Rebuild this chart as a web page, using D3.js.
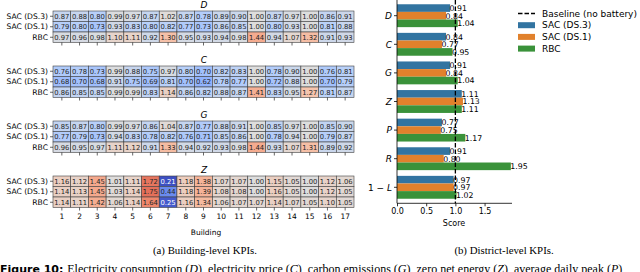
<!DOCTYPE html>
<html>
  <head>
    <style>
      html,
      body {
        margin: 0;
        padding: 0;
        background: #fff;
      }
      svg {
        display: block;
      }
    </style>
  </head>
  <body>
    <div id="viz"></div>
    <script src="https://d3js.org/d3.v7.min.js"></script>
    <script>
      // ---- data ----
      const buildings = ["1", "2", "3", "4", "5", "6", "7", "8", "9", "10", "11", "12", "13", "14", "15", "16", "17"];
      const controllers = ["SAC (DS.3)", "SAC (DS.1)", "RBC"];
      const panelNames = ["D", "C", "G", "Z"];

      const consumptionD = [
        [0.87, 0.88, 0.80, 0.99, 0.97, 0.87, 1.02, 0.87, 0.78, 0.89, 0.90, 1.00, 0.87, 0.97, 1.00, 0.86, 0.91],
        [0.79, 0.80, 0.73, 0.93, 0.83, 0.80, 0.82, 0.77, 0.73, 0.86, 0.85, 1.00, 0.80, 0.93, 1.00, 0.81, 0.88],
        [0.97, 0.96, 0.98, 1.10, 1.11, 0.92, 1.30, 0.95, 0.93, 0.94, 0.98, 1.44, 0.94, 1.07, 1.32, 0.91, 0.93],
      ];
      const priceC = [
        [0.76, 0.78, 0.73, 0.99, 0.88, 0.75, 0.97, 0.80, 0.70, 0.82, 0.83, 1.00, 0.78, 0.90, 1.00, 0.76, 0.81],
        [0.68, 0.70, 0.68, 0.91, 0.75, 0.69, 0.81, 0.70, 0.62, 0.78, 0.77, 1.00, 0.72, 0.88, 1.00, 0.70, 0.79],
        [0.86, 0.85, 0.85, 0.99, 0.99, 0.83, 1.14, 0.86, 0.82, 0.88, 0.87, 1.41, 0.83, 0.95, 1.27, 0.81, 0.87],
      ];
      const emissionsG = [
        [0.85, 0.87, 0.80, 0.99, 0.97, 0.86, 1.04, 0.87, 0.77, 0.88, 0.91, 1.00, 0.85, 0.97, 1.00, 0.85, 0.90],
        [0.77, 0.79, 0.73, 0.94, 0.83, 0.78, 0.82, 0.76, 0.71, 0.85, 0.86, 1.00, 0.78, 0.94, 1.00, 0.79, 0.87],
        [0.96, 0.95, 0.97, 1.11, 1.12, 0.91, 1.33, 0.94, 0.92, 0.93, 0.98, 1.44, 0.93, 1.07, 1.31, 0.89, 0.92],
      ];
      const zeroNetZ = [
        [1.16, 1.12, 1.45, 1.01, 1.11, 1.72, 0.21, 1.18, 1.38, 1.07, 1.07, 1.00, 1.15, 1.05, 1.00, 1.12, 1.06],
        [1.14, 1.13, 1.45, 1.03, 1.14, 1.75, 0.44, 1.18, 1.39, 1.08, 1.08, 1.00, 1.16, 1.05, 1.00, 1.12, 1.05],
        [1.14, 1.11, 1.42, 1.06, 1.14, 1.64, 0.25, 1.16, 1.34, 1.06, 1.07, 1.07, 1.14, 1.07, 1.05, 1.10, 1.05],
      ];
      const panelValues = [consumptionD, priceC, emissionsG, zeroNetZ];

      const districtKpis = ["D", "C", "G", "Z", "P", "R", "1 − L"];
      const sacDs3 = [0.91, 0.84, 0.91, 1.11, 0.77, 0.91, 0.97];
      const sacDs1 = [0.84, 0.77, 0.84, 1.13, 0.75, 0.80, 0.97];
      const rbc = [1.04, 0.95, 1.04, 1.11, 1.17, 1.95, 1.02];
      const scoreTicks = [0, 0.5, 1.0, 1.5];
      const baseline = 1.0;

      // ---- setup ----
      const width = 640;
      const height = 272;
      const sans = "'DejaVu Sans', sans-serif";
      const serif = "'Liberation Serif', 'DejaVu Serif', serif";

      const svg = d3
        .select("#viz")
        .append("svg")
        .attr("width", width)
        .attr("height", height);

      // coolwarm colour map
      const coolwarmStops = ["#3b4cc0", "#6282ea", "#8db0fe", "#b8d0f9", "#dddddd", "#f5c4ac", "#f49a7b", "#de604d", "#b40426"];
      const coolwarm = d3
        .scaleLinear()
        .domain(coolwarmStops.map((c, i) => i / (coolwarmStops.length - 1)))
        .range(coolwarmStops)
        .interpolate(d3.interpolateRgb);
      const norm = d3.scaleLinear().domain([0.2, 1, 2.1]).range([0, 0.5, 1]).clamp(true);

      // ---- (a) building-level heatmaps ----
      const x = d3.scaleBand().domain(buildings).range([53, 354]);
      const panelTop = 11;
      const panelStep = 55;
      const panelH = 31.5;

      panelNames.forEach((name, p) => {
        const top = panelTop + p * panelStep;
        const y = d3.scaleBand().domain(controllers).range([top, top + panelH]);
        const g = svg.append("g");

        const cells = [];
        controllers.forEach((c, r) => {
          buildings.forEach((b, i) => {
            cells.push({ c, b, v: panelValues[p][r][i] });
          });
        });

        g.selectAll("rect")
          .data(cells)
          .join("rect")
          .attr("x", (d) => x(d.b))
          .attr("y", (d) => y(d.c))
          .attr("width", x.bandwidth())
          .attr("height", y.bandwidth())
          .attr("fill", (d) => coolwarm(norm(d.v)))
          .attr("stroke", "#404040")
          .attr("stroke-width", 0.6);

        g.selectAll("text.val")
          .data(cells)
          .join("text")
          .attr("class", "val")
          .attr("x", (d) => x(d.b) + x.bandwidth() / 2)
          .attr("y", (d) => y(d.c) + y.bandwidth() / 2)
          .attr("dy", "0.36em")
          .attr("text-anchor", "middle")
          .attr("font-family", sans)
          .attr("font-size", 6.8)
          .attr("fill", (d) => (norm(d.v) < 0.08 ? "#fff" : "#262626"))
          .text((d) => d.v.toFixed(2));

        // row labels
        const yAxis = d3.axisLeft(y).tickSize(3).tickPadding(2);
        const ya = g.append("g").attr("transform", "translate(53,0)").call(yAxis);
        ya.select(".domain").remove();
        ya.selectAll("text").attr("font-family", sans).attr("font-size", 7.6).attr("fill", "#000");
        ya.selectAll("line").attr("stroke", "#000").attr("stroke-width", 0.6);

        // column ticks
        const xAxis = d3.axisBottom(x).tickSize(3).tickPadding(3);
        const xa = g
          .append("g")
          .attr("transform", `translate(0,${top + panelH})`)
          .call(xAxis);
        xa.select(".domain").remove();
        xa.selectAll("line").attr("stroke", "#000").attr("stroke-width", 0.6);
        xa.selectAll("text").attr("font-family", sans).attr("font-size", 7.5).attr("fill", "#000");
        if (p < panelNames.length - 1) xa.selectAll("text").remove();

        // panel title
        g.append("text")
          .attr("x", 204)
          .attr("y", top - 3.5)
          .attr("text-anchor", "middle")
          .attr("font-family", sans)
          .attr("font-style", "italic")
          .attr("font-size", 9)
          .text(name);
      });

      svg
        .append("text")
        .attr("x", 206)
        .attr("y", 235)
        .attr("text-anchor", "middle")
        .attr("font-family", sans)
        .attr("font-size", 7.5)
        .text("Building");

      // ---- (b) district-level bars ----
      const bx = d3.scaleLinear().domain([0, 1.97]).range([397, 512]);
      const by = d3.scaleBand().domain(districtKpis).range([1.4, 201.6]);
      // group covers 80% of the step, like matplotlib grouped bars
      const groupPad = by.step() * 0.1;
      const barH = (by.step() * 0.8) / 3;
      const barColors = ["#3274a1", "#e1812c", "#3a923a"];
      const series = [sacDs3, sacDs1, rbc];

      const bars = [];
      series.forEach((vals, s) => {
        districtKpis.forEach((k, i) => {
          bars.push({ k, s, v: vals[i] });
        });
      });

      const gb = svg.append("g");
      gb.selectAll("rect")
        .data(bars)
        .join("rect")
        .attr("x", bx(0))
        .attr("y", (d) => by(d.k) + groupPad + d.s * barH)
        .attr("width", (d) => bx(d.v) - bx(0))
        .attr("height", barH)
        .attr("fill", (d) => barColors[d.s]);

      // baseline
      gb.append("line")
        .attr("x1", bx(baseline))
        .attr("x2", bx(baseline))
        .attr("y1", 0)
        .attr("y2", 203.3)
        .attr("stroke", "#000")
        .attr("stroke-width", 1.3)
        .attr("stroke-dasharray", "4.5,2");

      gb.selectAll("text.bval")
        .data(bars)
        .join("text")
        .attr("class", "bval")
        .attr("x", (d) => bx(d.v) - 0.5)
        .attr("y", (d) => by(d.k) + groupPad + d.s * barH + barH / 2)
        .attr("dy", "0.38em")
        .attr("font-family", sans)
        .attr("font-size", 7.8)
        .attr("fill", "#000")
        .text((d) => d.v.toFixed(2));

      // axes
      const bxAxis = d3
        .axisBottom(bx)
        .tickValues(scoreTicks)
        .tickFormat(d3.format(".1f"))
        .tickSize(3)
        .tickPadding(2);
      const bxa = gb.append("g").attr("transform", "translate(0,203.3)").call(bxAxis);
      bxa.select(".domain").attr("d", `M${bx(0)},0H512`).attr("stroke-width", 0.8);
      bxa.selectAll("line").attr("stroke-width", 0.8);
      bxa.selectAll("text").attr("font-family", sans).attr("font-size", 8).attr("fill", "#000");

      const byAxis = d3.axisLeft(by).tickSize(3).tickPadding(3).tickFormat(() => "");
      const bya = gb.append("g").attr("transform", `translate(${bx(0)},0)`).call(byAxis);
      bya.select(".domain").attr("d", "M0,0V203.3").attr("stroke-width", 0.8);
      bya.selectAll("line").attr("stroke-width", 0.8);
      // italic math labels
      bya.selectAll(".tick").each(function (d) {
        const t = d3
          .select(this)
          .append("text")
          .attr("x", -5)
          .attr("dy", "0.36em")
          .attr("text-anchor", "end")
          .attr("font-family", sans)
          .attr("font-size", 9)
          .attr("fill", "#000");
        if (d === "1 − L") {
          t.append("tspan").text("1 − ");
          t.append("tspan").attr("font-style", "italic").text("L");
        } else {
          t.attr("font-style", "italic").text(d);
        }
      });

      gb.append("text")
        .attr("x", 454)
        .attr("y", 226)
        .attr("text-anchor", "middle")
        .attr("font-family", sans)
        .attr("font-size", 8)
        .text("Score");

      // legend
      const legendItems = ["Baseline (no battery)", ...controllers];
      const lg = svg.append("g").attr("transform", "translate(518,13.5)");
      legendItems.forEach((label, i) => {
        const row = lg.append("g").attr("transform", `translate(0,${i * 11.7})`);
        if (i === 0) {
          row.append("line")
            .attr("x1", 0)
            .attr("x2", 17)
            .attr("stroke", "#000")
            .attr("stroke-width", 1.3)
            .attr("stroke-dasharray", "4.5,2");
        } else {
          row.append("rect")
            .attr("x", 0)
            .attr("y", -3)
            .attr("width", 17)
            .attr("height", 6)
            .attr("fill", barColors[i - 1]);
        }
        row.append("text")
          .attr("x", 24)
          .attr("dy", "0.36em")
          .attr("font-family", sans)
          .attr("font-size", 9)
          .text(label);
      });

      // ---- captions ----
      svg.append("text")
        .attr("x", 205)
        .attr("y", 254)
        .attr("text-anchor", "middle")
        .attr("font-family", serif)
        .attr("font-size", 10.8)
        .text("(a) Building-level KPIs.");
      svg.append("text")
        .attr("x", 504)
        .attr("y", 254)
        .attr("text-anchor", "middle")
        .attr("font-family", serif)
        .attr("font-size", 10.8)
        .text("(b) District-level KPIs.");

      const cap = svg.append("text").attr("x", 0).attr("y", 273).attr("font-family", serif).attr("font-size", 12);
      cap.append("tspan").attr("font-family", sans).attr("font-weight", "bold").attr("font-size", 11).text("Figure 10: ");
      const capParts = [
        ["Electricity consumption (", false], ["D", true], ["), electricity price (", false], ["C", true],
        ["), carbon emissions (", false], ["G", true], ["), zero net energy (", false], ["Z", true],
        ["), average daily peak (", false], ["P", true], ["),", false],
      ];
      capParts.forEach(([t, it]) => {
        cap.append("tspan").attr("font-style", it ? "italic" : "normal").text(t);
      });
    </script>
  </body>
</html>
